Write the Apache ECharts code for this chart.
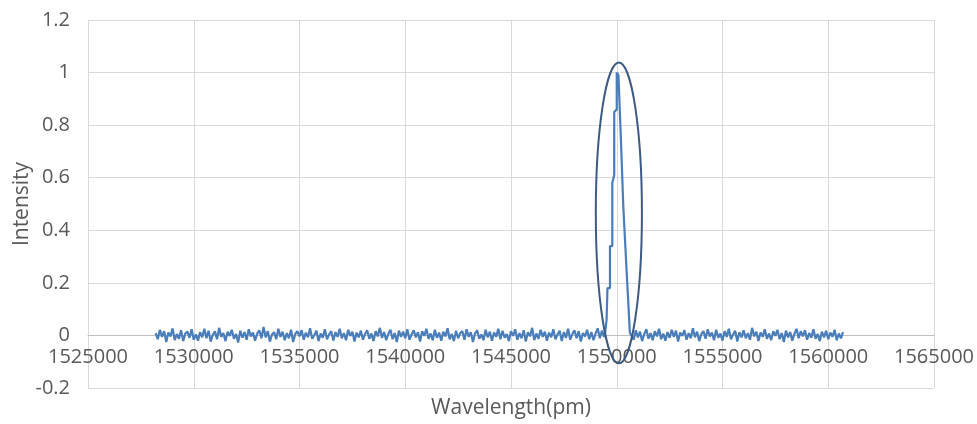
<!DOCTYPE html>
<html>
<head>
<meta charset="utf-8">
<script src="https://cdn.jsdelivr.net/npm/echarts@6/dist/echarts.min.js"></script>
<style>
  html, body { margin: 0; padding: 0; background: #fff; }
  #chart { width: 977px; height: 424px; }
</style>
</head>
<body>
<div id="chart"></div>
<script>
// wavelength sampling of the noise floor (pm)
const leftStart = 1528200
const rightStart = 1550700
const sampleStep = 100
// noise values are typed in units of 0.0018
const noiseUnit = 0.0018

const leftNoise = [
  5, -8, 12, -3, 9, -14, 6, -2, 15, -10, 3, -7, 11, -12, 4, 8, -5, 13, -9, 2,
  -11, 7, -4, 14, -6, 10, -13, 1, 9, -8, 16, -3, 5, -12, 8, -1, 12, -7, 3, -15,
  10, -5, 7, -9, 13, -2, 6, -11, 4, 11, -6, 18, -4, 9, -13, 2, 7, -8, 14, -3,
  8, -10, 5, -6, 12, -14, 3, 9, -2, 11, -9, 6, -4, 15, -7, 1, 10, -12, 4, -5,
  13, -8, 2, 9, -11, 7, -3, 14, -6, 5, -10, 12, -1, 8, -13, 6, -4, 10, -9, 3,
  11, -7, 4, -12, 9, -2, 16, -5, 7, -10, 3, 12, -8, 5, -14, 10, -3, 8, -6, 13,
  -9, 2, 11, -4, 7, -13, 9, -1, 14, -7, 4, -10, 12, -5, 6, -11, 8, -2, 15, -8,
  3, -12, 10, -6, 5, 9, -9, 13, -3, 7, -14, 4, 11, -7, 2, -10, 12, -4, 8, -11,
  6, -3, 14, -8, 10, -5, 3, -12, 9, -1, 13, -9, 5, -6, 11, -13, 7, -2, 16, -10,
  4, -7, 12, -3, 8, -11, 6, -4, 13, -8, 2, 10, -12, 7, -5, 14, -9, 3, 11, -6,
  9, -13, 5, -2, 12, -8, 7, -10, 4, 15, -6, 10, -3
]

const rightNoise = [
  6, -9, 11, -4, 8, -12, 3, 13, -7, 5, -10, 9, -2, 14, -8, 4, -11, 7, -5, 12,
  -3, 10, -13, 6, -1, 11, -9, 5, -6, 15, -4, 8, -12, 3, 9, -7, 13, -2, 6, -10,
  12, -5, 4, -11, 9, -3, 14, -8, 2, 10, -13, 7, -4, 11, -6, 5, -9, 16, -2, 8,
  -12, 6, -3, 13, -7, 4, -10, 9, -1, 12, -8, 5, -14, 10, -4, 7, -11, 3, 14, -6,
  9, -2, 11, -9, 5, -5, 13, -7, 3, -12, 8, -4, 10, -8, 6, -3, 12, -10, 4, -6,
  7
]

// the stepped peak near 1550000 pm
const peakX = [1549450, 1549520, 1549560, 1549680, 1549680, 1549790, 1549790, 1549880, 1549880, 1550000, 1550000, 1550080, 1550200, 1550310, 1550470, 1550620]
const peakY = [0.01, 0.06, 0.18, 0.18, 0.34, 0.34, 0.58, 0.61, 0.85, 0.86, 1.0, 0.99, 0.74, 0.49, 0.24, 0.01]

// ellipse around the peak: centre x, centre y, radius x, radius y
const ellipse = [1550100, 0.466, 1090, 0.572]

const xMin = 1525000
const xMax = 1565000
const xStep = 5000
const yMin = -0.2
const yMax = 1.2
const yStep = 0.2

const lineColor = '#4a7ebb'
const textColor = '#595959'
const gridColor = '#d9d9d9'
const fontFamily = '"Open Sans", sans-serif'

const gridTop = 20
const gridBottom = 36
const plotHeight = 424 - gridTop - gridBottom
// lift the x axis up to the y = 0 line, like Excel does
const zeroOffset = -plotHeight * (0 - yMin) / (yMax - yMin)

const spectrum = []
leftNoise.forEach((v, i) => spectrum.push([leftStart + i * sampleStep, v * noiseUnit]))
peakX.forEach((x, i) => spectrum.push([x, peakY[i]]))
rightNoise.forEach((v, i) => spectrum.push([rightStart + i * sampleStep, v * noiseUnit]))

const chart = echarts.init(document.getElementById('chart'))
chart.setOption({
  animation: false,
  textStyle: { fontFamily: fontFamily },
  grid: {
    left: 88,
    right: 43,
    top: gridTop,
    bottom: gridBottom,
    containLabel: false,
    outerBoundsMode: 'none'
  },
  xAxis: {
    type: 'value',
    min: xMin,
    max: xMax,
    interval: xStep,
    offset: zeroOffset,
    name: 'Wavelength(pm)',
    nameLocation: 'middle',
    nameGap: 62,
    nameMoveOverlap: false,
    nameTextStyle: { color: textColor, fontSize: 21, fontFamily: fontFamily },
    axisLine: { show: true, onZero: false, lineStyle: { color: '#bfbfbf', width: 1 } },
    axisTick: { show: false },
    axisLabel: {
      color: textColor,
      fontSize: 20,
      margin: 12,
      showMinLabel: true,
      showMaxLabel: true,
      formatter: v => String(v)
    },
    splitLine: { show: true, lineStyle: { color: gridColor, width: 1 } }
  },
  yAxis: {
    type: 'value',
    min: yMin,
    max: yMax,
    interval: yStep,
    name: 'Intensity',
    nameLocation: 'middle',
    nameGap: 55,
    nameMoveOverlap: false,
    nameTextStyle: { color: textColor, fontSize: 21, fontFamily: fontFamily },
    axisLine: { show: true, lineStyle: { color: gridColor, width: 1 } },
    axisTick: { show: false },
    axisLabel: {
      color: textColor,
      fontSize: 20,
      margin: 18,
      formatter: v => String(Math.round(v * 10) / 10)
    },
    splitLine: { show: true, lineStyle: { color: gridColor, width: 1 } }
  },
  series: [
    {
      type: 'line',
      data: spectrum,
      showSymbol: false,
      lineStyle: { color: lineColor, width: 2.2 },
      itemStyle: { color: lineColor },
      z: 3
    },
    {
      type: 'custom',
      data: [ellipse],
      renderItem: (params, api) => {
        const c = api.coord([api.value(0), api.value(1)])
        const s = api.size([api.value(2), api.value(3)])
        return {
          type: 'ellipse',
          shape: { cx: c[0], cy: c[1], rx: s[0], ry: s[1] },
          style: { fill: 'none', stroke: '#3c5a82', lineWidth: 2 }
        }
      },
      clip: false,
      z: 4
    }
  ]
})
</script>
</body>
</html>
